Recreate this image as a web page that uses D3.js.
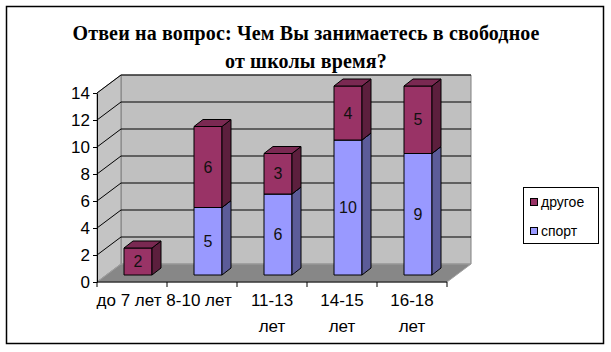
<!DOCTYPE html>
<html>
<head>
<meta charset="utf-8">
<script src="https://cdn.jsdelivr.net/npm/d3@7"></script>
<style>
  body { margin: 0; background: #fff; }
  text { font-family: "Liberation Sans", Arial, sans-serif; }
</style>
</head>
<body>
<div id="canvas"></div>
<script>
"use strict"

/* chart data */
let categories = ["до 7 лет", "8-10 лет", "11-13 лет", "14-15 лет", "16-18 лет"];
let tickLines = [["до 7 лет"], ["8-10 лет"], ["11-13", "лет"], ["14-15", "лет"], ["16-18", "лет"]];
let sport = [0, 5, 6, 10, 9];
let other = [2, 6, 3, 4, 5];
let seriesNames = ["спорт", "другое"];
let yTicks = [0, 2, 4, 6, 8, 10, 12, 14];
let titleLines = ["Отвеи на вопрос: Чем Вы занимаетесь в свободное", "от школы время?"];

let svgWidth = 611;
let svgHeight = 352;

/* 3d depth of the plot box and of the bars */
let depthX = 24, depthY = -18;
let barShiftX = 6, barShiftY = -7;
let barDepthX = 9, barDepthY = -7;

let colors = {
    "спорт": { front: "#9999ff", side: "#5c5c99", top: "#7a7acc" },
    "другое": { front: "#993366", side: "#5c1f3d", top: "#7a2952" }
};

let svg = d3.select("#canvas")
    .append("svg")
    .attr("width", svgWidth)
    .attr("height", svgHeight);

/* outer border */
svg.append("rect")
    .attr("x", 6.5).attr("y", 6.5)
    .attr("width", 597).attr("height", 337)
    .attr("fill", "white")
    .attr("stroke", "black")
    .attr("stroke-width", 1.5);

/* title */
svg.append("text")
    .attr("x", 306)
    .attr("y", 40)
    .style("text-anchor", "middle")
    .style("font-family", "'Liberation Serif', 'Times New Roman', serif")
    .style("font-weight", "bold")
    .style("font-size", "20px")
    .style("letter-spacing", "0.15px")
    .selectAll("tspan")
    .data(titleLines)
    .join("tspan")
    .attr("x", 306)
    .attr("dy", function (d, i) { return i == 0 ? 0 : 28; })
    .text(function (d) { return d; });

let xScale = d3.scaleBand()
    .domain(categories)
    .range([97, 447]);

let yScale = d3.scaleLinear()
    .domain([0, 14])
    .range([282, 93]);

let x0 = xScale.range()[0], x1 = xScale.range()[1];
let yTop = yScale(14), yBottom = yScale(0);

function pts(arr) {
    return arr.map(function (p) { return p[0] + "," + p[1]; }).join(" ");
}

/* walls and floor */
svg.append("polygon")
    .attr("points", pts([[x0 + depthX, yTop + depthY], [x1 + depthX, yTop + depthY], [x1 + depthX, yBottom + depthY], [x0 + depthX, yBottom + depthY]]))
    .attr("fill", "#c0c0c0")
    .attr("stroke", "#808080");

svg.append("polygon")
    .attr("points", pts([[x0, yTop], [x0 + depthX, yTop + depthY], [x0 + depthX, yBottom + depthY], [x0, yBottom]]))
    .attr("fill", "#c4c4c4")
    .attr("stroke", "#808080");

svg.append("polygon")
    .attr("points", pts([[x0, yBottom], [x1, yBottom], [x1 + depthX, yBottom + depthY], [x0 + depthX, yBottom + depthY]]))
    .attr("fill", "#878787")
    .attr("stroke", "#a0a0a0");

/* gridlines on the walls */
for (let i = 1; i < yTicks.length; i++) {
    let y = yScale(yTicks[i]);
    svg.append("polyline")
        .attr("points", pts([[x0, y], [x0 + depthX, y + depthY], [x1 + depthX, y + depthY]]))
        .attr("fill", "none")
        .attr("stroke", "black")
        .attr("stroke-width", 1);
}

/* bars */
let table = categories.map(function (c, i) {
    return { cat: c, "спорт": sport[i], "другое": other[i] };
});
let stacked = d3.stack().keys(seriesNames)(table);

let barWidth = xScale.bandwidth() * 0.4;

stacked.forEach(function (layer) {
    let c = colors[layer.key];
    layer.forEach(function (d) {
        let v = d[1] - d[0];
        if (v <= 0) return;
        let bx = xScale(d.data.cat) + (xScale.bandwidth() - barWidth) / 2 + barShiftX;
        let bTop = yScale(d[1]) + barShiftY;
        let bBot = yScale(d[0]) + barShiftY;
        let g = svg.append("g")
            .attr("stroke", "black")
            .attr("stroke-width", 1)
            .attr("stroke-linejoin", "round");
        g.append("rect")
            .attr("x", bx).attr("y", bTop)
            .attr("width", barWidth).attr("height", bBot - bTop)
            .attr("fill", c.front);
        g.append("polygon")
            .attr("points", pts([[bx + barWidth, bTop], [bx + barWidth + barDepthX, bTop + barDepthY], [bx + barWidth + barDepthX, bBot + barDepthY], [bx + barWidth, bBot]]))
            .attr("fill", c.side);
        g.append("polygon")
            .attr("points", pts([[bx, bTop], [bx + barWidth, bTop], [bx + barWidth + barDepthX, bTop + barDepthY], [bx + barDepthX, bTop + barDepthY]]))
            .attr("fill", c.top);
        svg.append("text")
            .attr("x", bx + barWidth / 2)
            .attr("y", (bTop + bBot) / 2)
            .attr("dy", "0.35em")
            .style("text-anchor", "middle")
            .style("font-size", "16px")
            .attr("fill", "#111")
            .text(v);
    });
});

/* axes */
let yAxis = d3.axisLeft(yScale)
    .tickValues(yTicks)
    .tickSize(4)
    .tickSizeOuter(0)
    .tickPadding(3);

let yAxisG = svg.append("g")
    .attr("transform", "translate(" + x0 + ",0)")
    .call(yAxis);
yAxisG.selectAll("text")
    .style("font-size", "17px")
    .style("font-family", "'Liberation Sans', Arial, sans-serif")
    .attr("fill", "black");
yAxisG.selectAll("line, path").attr("stroke", "black");

svg.append("line")
    .attr("x1", x0).attr("y1", yBottom)
    .attr("x2", x1).attr("y2", yBottom)
    .attr("stroke", "black");

let edges = categories.map(function (c) { return xScale(c); }).concat([x1]);
edges.forEach(function (e) {
    svg.append("line")
        .attr("x1", e).attr("y1", yBottom)
        .attr("x2", e).attr("y2", yBottom + 5)
        .attr("stroke", "black");
});

categories.forEach(function (c, i) {
    svg.append("text")
        .attr("x", xScale(c) + xScale.bandwidth() / 2)
        .attr("y", 306)
        .style("text-anchor", "middle")
        .style("font-size", "17px")
        .selectAll("tspan")
        .data(tickLines[i])
        .join("tspan")
        .attr("x", xScale(c) + xScale.bandwidth() / 2 - (i < 2 ? 3 : 0))
        .attr("dy", function (d, j) { return j == 0 ? 0 : 26; })
        .text(function (d) { return d; });
});

/* legend */
svg.append("rect")
    .attr("x", 523.5).attr("y", 187.5)
    .attr("width", 75).attr("height", 56)
    .attr("fill", "white")
    .attr("stroke", "black");

let legendItems = ["другое", "спорт"];
legendItems.forEach(function (name, i) {
    let ly = 202 + i * 29;
    svg.append("rect")
        .attr("x", 530.5).attr("y", ly - 3.5)
        .attr("width", 7).attr("height", 7)
        .attr("fill", colors[name].front)
        .attr("stroke", "black");
    svg.append("text")
        .attr("x", 541)
        .attr("y", ly)
        .attr("dy", "0.35em")
        .style("font-size", "14px")
        .text(name);
});
</script>
</body>
</html>
